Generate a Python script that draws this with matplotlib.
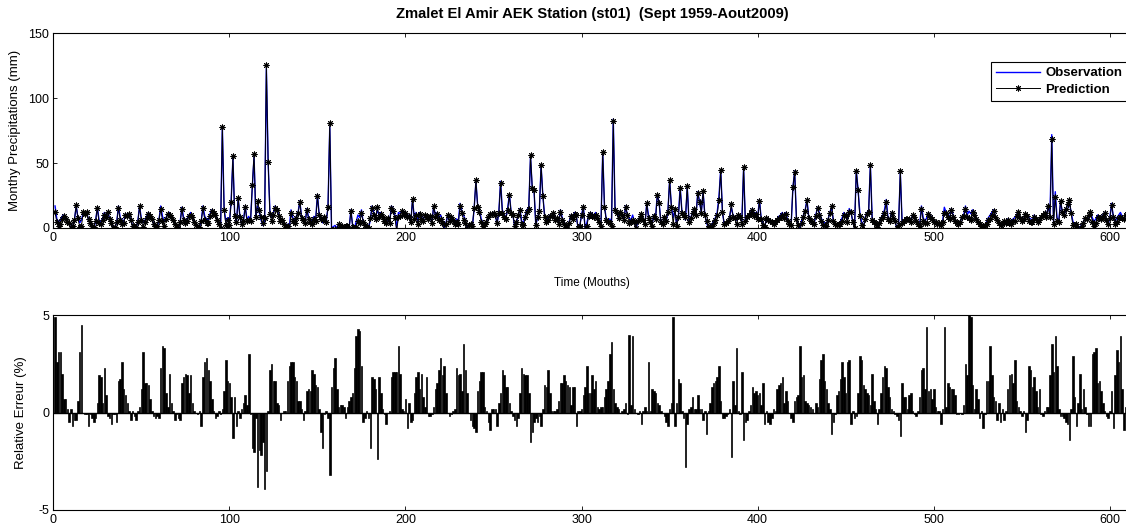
import numpy as np
import matplotlib
matplotlib.use("Agg")
import matplotlib.pyplot as plt

plt.rcParams["font.family"] = ["Liberation Sans", "DejaVu Sans"]
plt.rcParams["axes.unicode_minus"] = False

# Monthly series, Sept 1959 onwards (12 values per hydrological year)
months = np.arange(1, 613)

obs_mm = np.array([
    17, 7, 5, 6, 9, 10, 8, 5, 3, 0, 1, 6,
    17, 8, 4, 6, 12, 11, 12, 6, 4, 1, 0, 5,
    16, 6, 5, 7, 12, 9, 12, 7, 3, 0, 1, 4,
    17, 8, 6, 5, 11, 10, 11, 6, 2, 1, 0, 5,
    17, 7, 4, 6, 9, 12, 10, 7, 3, 0, 1, 6,
    17, 9, 5, 8, 11, 12, 9, 6, 3, 1, 0, 4,
    16, 8, 6, 7, 10, 12, 9, 5, 2, 0, 1, 5,
    17, 9, 7, 6, 11, 14, 12, 10, 6, 3, 0, 78,
    15, 5, 8, 4, 21, 54, 10, 4, 23, 8, 3, 6,
    17, 6, 9, 5, 31, 55, 8, 17, 12, 6, 2, 4,
    123, 51, 13, 8, 12, 17, 14, 10, 5, 6, 3, 1,
    3, 0, 14, 8, 6, 9, 12, 21, 8, 6, 4, 15,
    8, 6, 5, 9, 7, 26, 10, 6, 4, 8, 5, 16,
    78, 0, 1, 2, 0, 3, 1, 2, 0, 1, 2, 0,
    14, 2, 0, 5, 10, 8, 14, 4, 2, 1, 0, 6,
    17, 12, 8, 14, 10, 12, 9, 5, 3, 8, 4, 17,
    15, 10, 0, 12, 11, 13, 10, 12, 8, 10, 4, 22,
    8, 12, 5, 12, 9, 6, 10, 10, 7, 9, 4, 17,
    10, 12, 8, 10, 6, 0, 4, 10, 5, 8, 6, 3,
    7, 5, 19, 13, 10, 6, 0, 2, 3, 1, 15, 36,
    17, 14, 7, 4, 3, 5, 8, 10, 11, 12, 10, 3,
    12, 36, 14, 10, 8, 15, 26, 12, 10, 1, 4, 10,
    15, 5, 4, 10, 14, 16, 55, 30, 29, 2, 8, 13,
    48, 25, 10, 6, 8, 10, 9, 12, 6, 8, 4, 14,
    8, 5, 2, 0, 5, 10, 8, 12, 9, 0, 2, 10,
    17, 0, 4, 10, 12, 11, 10, 12, 8, 5, 2, 59,
    17, 7, 6, 7, 5, 84, 14, 12, 8, 12, 10, 6,
    17, 10, 8, 6, 10, 5, 0, 5, 8, 10, 6, 3,
    19, 10, 5, 3, 10, 8, 26, 20, 5, 3, 8, 5,
    12, 37, 17, 8, 14, 2, 10, 32, 12, 10, 6, 32,
    5, 8, 12, 15, 10, 28, 20, 12, 28, 10, 4, 0,
    2, 3, 5, 8, 12, 24, 45, 12, 3, 4, 5, 8,
    16, 10, 8, 6, 10, 8, 5, 46, 5, 8, 10, 12,
    15, 10, 12, 8, 22, 7, 4, 0, 8, 6, 5, 4,
    3, 5, 7, 9, 10, 12, 8, 12, 6, 3, 2, 31,
    44, 8, 3, 0, 6, 10, 14, 22, 8, 6, 5, 3,
    10, 16, 12, 8, 5, 4, 3, 7, 12, 16, 5, 3,
    3, 4, 5, 8, 12, 10, 7, 15, 12, 5, 0, 44,
    30, 12, 5, 0, 8, 12, 13, 49, 8, 5, 3, 0,
    4, 8, 10, 14, 22, 8, 6, 12, 8, 5, 0, 2,
    43, 5, 6, 8, 7, 8, 6, 10, 8, 5, 3, 2,
    17, 8, 5, 8, 12, 10, 8, 6, 5, 3, 4, 2,
    5, 16, 12, 10, 8, 15, 10, 6, 4, 3, 5, 8,
    10, 17, 10, 13, 11, 14, 10, 8, 5, 3, 2, 0,
    2, 5, 8, 10, 12, 14, 9, 6, 4, 2, 3, 5,
    4, 7, 6, 5, 7, 8, 10, 13, 8, 5, 7, 10,
    9, 8, 7, 6, 10, 8, 5, 7, 8, 10, 12, 9,
    17, 10, 72, 5, 28, 8, 5, 21, 12, 10, 14, 18,
    20, 12, 5, 3, 2, 0, 1, 2, 5, 8, 7, 9,
    12, 8, 5, 7, 10, 9, 8, 10, 12, 6, 3, 8,
    19, 8, 5, 8, 10, 12, 9, 6, 10, 12, 8, 6,
], dtype=float)

err_pct = np.array([
    4.9, 2.6, 3.1, 3.1, 2.0, 0.7, 0.7, 0.2, -0.5, 0.2, -0.7, -0.4,
    -0.4, 0.6, 3.1, 4.5, 0.0, -0.1, -0.1, -0.7, -0.1, -0.3, -0.5, -0.3,
    0.5, 1.9, 1.8, 0.5, 2.3, 0.9, -0.2, -0.3, -0.6, -0.1, -0.1, -0.5,
    1.6, 1.7, 2.6, 1.2, 0.9, 0.5, 0.1, -0.4, 0.1, -0.2, -0.4, 0.1,
    0.3, 1.2, 3.1, 1.5, 1.5, 1.4, 0.7, 0.1, -0.2, -0.3, -0.2, -0.3,
    2.3, 3.4, 3.3, 1.0, 0.3, 2.0, 0.5, 0.1, -0.4, -0.1, -0.3, -0.4,
    1.5, 1.8, 2.0, 1.9, 1.0, 1.9, 0.5, 0.1, 0.0, -0.1, 0.1, -0.7,
    1.8, 2.6, 2.8, 2.2, 1.6, 0.7, 0.1, -0.3, -0.2, 0.1, -0.1, 0.2,
    1.1, 2.7, 1.6, 1.5, 0.8, -1.3, 0.8, -0.7, 0.1, -0.3, 0.2, 0.5,
    0.9, 0.4, 3.0, -0.1, -1.8, -2.0, -0.3, -3.8, -1.9, -2.2, -1.5, -3.9,
    -3.0, 0.1, 2.2, 2.5, 1.6, 1.6, 0.5, 0.4, -0.4, 0.0, 0.1, 0.1,
    1.6, 2.4, 2.6, 2.6, 1.8, 1.6, 0.6, 0.6, 0.2, -0.4, 0.1, 1.1,
    1.2, 1.1, 2.2, 2.0, 1.4, 1.3, 0.2, -1.0, -1.8, -0.1, 0.1, -0.3,
    -3.2, 1.3, 2.3, 2.8, 1.2, 0.3, 0.4, 0.4, 0.3, -0.3, 0.3, 0.6,
    0.8, 1.0, 2.3, 3.9, 4.3, 4.2, 2.4, -0.5, -0.3, 0.1, -0.3, -1.8,
    1.8, 1.7, 1.2, -2.4, 1.8, 1.0, 0.2, -0.1, -0.6, 0.0, 0.1, 1.8,
    2.1, 2.1, 2.1, 3.4, 2.0, 0.2, 0.1, 0.7, -0.8, 0.5, -0.5, -0.4,
    1.0, 1.8, 2.1, 1.2, 2.0, 0.8, 0.3, 1.8, -0.2, -0.2, -0.1, 0.3,
    1.2, 1.5, 2.2, 2.8, 1.9, 2.4, 1.0, 0.0, -0.2, -0.1, 0.1, 0.2,
    2.3, 1.9, 2.0, 1.1, 3.5, 2.2, 1.0, 0.0, -0.4, -0.7, -0.8, -1.0,
    1.1, 1.6, 2.1, 2.1, 0.3, 0.1, -0.5, -0.9, 0.2, 0.2, 0.2, -0.7,
    0.5, 1.0, 2.2, 1.9, 1.3, 1.3, 0.5, 0.1, -0.2, -0.4, -0.7, -0.3,
    1.0, 2.3, 2.0, 1.9, 1.9, 1.0, -1.5, -1.0, -0.5, -0.3, -0.5, -0.2,
    -0.7, 0.2, 1.4, 1.3, 2.2, 1.0, 0.1, 0.1, 0.1, 0.2, 0.6, 1.5,
    1.5, 1.9, 1.6, 1.4, 1.3, 0.4, 1.3, 1.3, -0.7, 0.1, 0.1, 0.2,
    0.9, 1.3, 2.4, 1.0, 1.0, 1.9, 1.2, 1.6, 0.3, 0.2, 0.3, 0.3,
    0.8, 1.2, 1.6, 3.0, 3.6, 1.2, 0.5, 0.3, 0.2, 0.0, 0.1, 0.2,
    0.5, -0.1, 4.0, 0.4, 3.9, 0.2, 0.0, -0.1, 0.1, -0.6, 0.1, 0.3,
    0.1, 2.6, 0.1, 1.2, 1.1, 1.0, 0.5, 0.4, 0.1, 0.0, -0.2, -0.5,
    -0.7, 0.2, 0.5, 4.9, -0.7, 0.5, 1.7, 1.5, 0.1, -0.3, -2.8, -0.6,
    0.2, 0.3, 0.8, 0.2, 0.2, 0.9, 0.2, 0.2, -0.4, 0.1, -1.1, 0.1,
    0.5, 1.3, 1.5, 1.6, 1.8, 2.4, 0.6, -0.3, -0.3, -0.2, -0.1, 0.2,
    -2.3, 1.6, 0.4, 3.3, 0.1, -0.1, 2.1, -1.4, -0.5, -0.4, 0.1, 0.4,
    1.3, 1.0, 1.1, 0.9, 1.0, 0.4, 1.5, -0.6, 0.1, -0.5, -0.6, -0.3,
    0.2, 0.1, 1.2, 1.4, 1.5, 1.8, 0.5, 1.1, 0.6, 0.0, -0.3, -0.5,
    0.6, 0.8, 0.9, 3.4, 1.8, 1.9, 0.6, 0.5, 0.4, 0.3, 0.2, 0.0,
    0.5, 0.3, 1.7, 2.7, 3.0, 1.6, 1.2, 0.5, 0.2, -1.1, -0.5, -0.1,
    0.9, 1.1, 1.7, 2.6, 1.8, 1.0, 2.6, 2.7, -0.6, 0.1, -0.3, -0.2,
    1.0, 2.9, 2.7, 1.4, 1.2, 1.0, 0.9, 0.4, 2.0, 0.6, 0.2, -0.6,
    0.2, 1.0, 1.8, 2.4, 2.3, 1.3, 0.8, 0.2, 0.1, -0.1, -0.2, -0.4,
    -1.2, 1.5, 0.8, 0.8, 0.2, 0.9, 1.0, 0.1, -0.1, -0.2, 0.1, 0.8,
    2.2, 2.3, 1.2, 4.4, 1.1, 1.2, 0.7, 1.2, 0.3, 0.1, 0.1, -0.6,
    0.2, 4.4, 0.3, 1.5, 1.3, 1.2, 1.2, 0.9, -0.1, -0.1, 0.0, -0.1,
    0.4, 2.5, 1.9, 5.0, 4.9, 1.4, 0.2, 1.2, 0.7, -0.3, 0.1, -0.8,
    -0.1, 1.6, 1.6, 3.4, 1.9, 0.8, 0.6, -0.4, 0.5, -0.5, 0.2, -0.4,
    0.1, 1.2, 1.9, 2.0, 1.5, 2.7, 0.6, 0.3, 0.1, -0.2, 0.1, -1.0,
    -0.4, 2.4, 2.2, 1.3, 1.8, 1.1, 0.3, 1.2, -0.1, -0.2, 0.1, 0.3,
    0.3, 1.9, 3.5, 2.1, 3.9, 2.4, 0.2, -0.2, -0.2, -0.3, -0.5, -0.6,
    -1.4, 0.2, 2.9, 0.8, -0.7, 0.5, 2.0, 0.2, 1.2, 0.3, -0.1, -0.7,
    -0.7, 3.0, 3.1, 3.3, 1.5, 1.6, 1.1, 0.5, 0.1, -0.2, -0.3, 0.1,
    1.1, -0.8, 1.9, 3.2, 2.6, 3.9, 1.2, -0.9, 0.3, 1.5, 0.8, 0.2,
])

# error = observation - prediction
pred_mm = obs_mm - err_pct

x_ticks = [0, 100, 200, 300, 400, 500, 600]
top_yticks = [0, 50, 100, 150]
bottom_yticks = [-5, 0, 5]

W, H = 1126, 527
fig = plt.figure(figsize=(W / 100, H / 100), dpi=100)

left = 53.3 / W
width = (1131 - 53.3) / W
ax1 = fig.add_axes([left, 1 - 228 / H, width, (228 - 33.5) / H])
ax2 = fig.add_axes([left, 1 - 510 / H, width, (510 - 315) / H])

star = (8, 2, 0)
ax1.plot(months, obs_mm, color=(0, 0, 1), lw=1.0, label="Observation", zorder=2)
ax1.plot(months, pred_mm, color="k", lw=0.7, marker=star, ms=4.2, mew=0.7,
         label="Prediction", zorder=3)

ax1.set_xlim(0, 612)
ax1.set_ylim(0, 150)
ax1.set_xticks(x_ticks)
ax1.set_yticks(top_yticks)
ax1.set_title("Zmalet El Amir AEK Station (st01)  (Sept 1959-Aout2009)",
              fontsize=10.6, fontweight="bold", pad=11)
ax1.set_ylabel("Monthy Precipitations (mm)", fontsize=9.5)
ax1.yaxis.set_label_coords(-0.030, 0.5)
ax1.set_xlabel("Time (Mouths)", fontsize=8.5)
ax1.xaxis.set_label_coords(0.5, -0.25)

leg = ax1.legend(loc="upper right", bbox_to_anchor=(0.997, 0.855),
                 borderaxespad=0, fancybox=False, framealpha=1,
                 edgecolor="k", handlelength=3.3, handletextpad=0.45,
                 labelspacing=0.35, borderpad=0.4,
                 prop={"size": 9.5, "weight": "bold"})
leg.get_frame().set_linewidth(0.8)

ax2.bar(months, err_pct, width=0.85, color="k", edgecolor="k", linewidth=0.5)
ax2.axhline(0, color="k", lw=1.0)
ax2.set_xlim(0, 612)
ax2.set_ylim(-5, 5)
ax2.set_xticks(x_ticks)
ax2.set_yticks(bottom_yticks)
ax2.set_ylabel("Relative Erreur (%)", fontsize=9.5)
ax2.yaxis.set_label_coords(-0.024, 0.5)

for ax in (ax1, ax2):
    ax.tick_params(direction="in", length=3, width=0.6, top=True, right=True,
                   labelsize=9, pad=3)
    for s in ax.spines.values():
        s.set_linewidth(0.8)

fig.savefig("out.png", dpi=100)
